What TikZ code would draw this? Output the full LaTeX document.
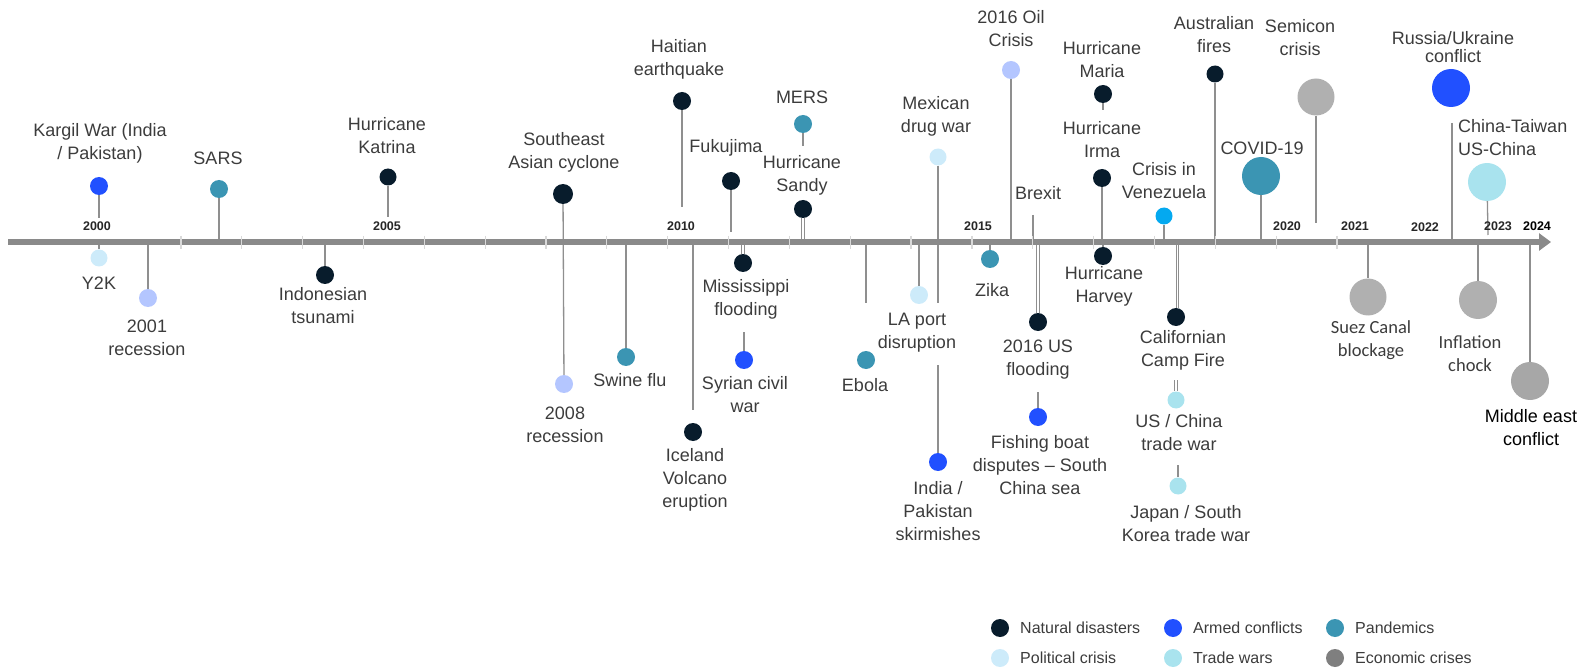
\documentclass[tikz,border=0pt]{standalone}
\usepackage{fontspec}
\setmainfont{Liberation Sans}
\newfontfamily\calfont{Carlito}
\usetikzlibrary{arrows.meta}

\definecolor{natcol}{HTML}{081C2C}
\definecolor{armcol}{HTML}{2150FF}
\definecolor{pancol}{HTML}{3B95B3}
\definecolor{polcol}{HTML}{CDEBFA}
\definecolor{tradecol}{HTML}{A9E3EE}
\definecolor{ecocol}{HTML}{B0B0B0}
\definecolor{ecoleg}{HTML}{7F7F7F}
\definecolor{lavcol}{HTML}{B4C6FF}
\definecolor{vencol}{HTML}{04A9F0}
\definecolor{stemgray}{HTML}{8F8F8F}
\definecolor{axisgray}{HTML}{8A8A8A}
\definecolor{txtgray}{HTML}{3C3C3C}

\begin{document}
\begin{tikzpicture}[x=1pt,y=-1pt,
    evdot/.style={circle,inner sep=0pt,minimum size=18pt},
    bigdot/.style={circle,inner sep=0pt,minimum size=38pt},
    stem/.style={draw=stemgray,line width=1.3pt},
    dstem/.style={draw=stemgray,line width=0.9pt,double=white,double distance=1.6pt},
    lbl/.style={align=center,inner sep=0pt,text=txtgray,font=\fontsize{18}{23}\selectfont},
    callbl/.style={align=center,inner sep=0pt,text=txtgray,font=\calfont\fontsize{18.5}{23}\selectfont},
    yr/.style={inner sep=0pt,font=\fontsize{12.5}{14}\selectfont\bfseries,text=black!85},
    legtxt/.style={anchor=west,inner sep=0pt,text=txtgray,font=\fontsize{16}{18}\selectfont}]
    \useasboundingbox (0,0) rectangle (1583,671);

    % axis ends
    \coordinate (axl) at (8,242);
    \coordinate (axr) at (1551,242);

    % events above the axis
    \node[evdot,fill=armcol] (kargil) at (99,186) {};
    \node[evdot,fill=pancol] (sars) at (219,189) {};
    \node[evdot,fill=natcol,minimum size=17pt] (katrina) at (388,177) {};
    \node[evdot,fill=natcol,minimum size=20pt] (seasia) at (563,194) {};
    \node[evdot,fill=natcol] (haiti) at (682,101) {};
    \node[evdot,fill=natcol] (fukujima) at (731,181) {};
    \node[evdot,fill=pancol] (mers) at (803,124) {};
    \node[evdot,fill=natcol] (sandy) at (803,209) {};
    \node[evdot,fill=polcol,minimum size=17pt] (mexico) at (938,157) {};
    \node[evdot,fill=lavcol] (oil) at (1011,70) {};
    \node[evdot,fill=natcol] (maria) at (1103,94) {};
    \node[evdot,fill=natcol] (irma) at (1102,178) {};
    \node[evdot,fill=vencol,minimum size=17pt] (venez) at (1164,216) {};
    \node[evdot,fill=natcol,minimum size=17pt] (ausfire) at (1215,74) {};
    \node[bigdot,fill=pancol] (covid) at (1261,176) {};
    \node[bigdot,fill=ecocol,minimum size=37pt] (semicon) at (1316,97) {};
    \node[bigdot,fill=armcol] (russia) at (1451,88) {};
    \node[bigdot,fill=tradecol] (chinatw) at (1487,182) {};

    % events below the axis
    \node[evdot,fill=polcol,minimum size=17pt] (y2k) at (99,258) {};
    \node[evdot,fill=lavcol] (rec01) at (148,298) {};
    \node[evdot,fill=natcol] (tsunami) at (325,275) {};
    \node[evdot,fill=lavcol] (rec08) at (564,384) {};
    \node[evdot,fill=pancol] (swine) at (626,357) {};
    \node[evdot,fill=natcol] (iceland) at (693,432) {};
    \node[evdot,fill=natcol] (mississ) at (743,263) {};
    \node[evdot,fill=armcol] (syria) at (744,360) {};
    \node[evdot,fill=pancol] (ebola) at (866,360) {};
    \node[evdot,fill=polcol] (laport) at (919,295) {};
    \node[evdot,fill=armcol] (indpak) at (938,462) {};
    \node[evdot,fill=pancol] (zika) at (990,259) {};
    \node[evdot,fill=natcol] (usflood) at (1038,322) {};
    \node[evdot,fill=armcol] (fishing) at (1038,417) {};
    \node[evdot,fill=natcol] (harvey) at (1103,256) {};
    \node[evdot,fill=natcol] (campfire) at (1176,317) {};
    \node[evdot,fill=tradecol,minimum size=17pt] (uschina) at (1176,400) {};
    \node[evdot,fill=tradecol,minimum size=17pt] (japan) at (1178,486) {};
    \node[bigdot,fill=ecocol,minimum size=37pt] (suez) at (1368,297) {};
    \node[bigdot,fill=ecocol] (inflation) at (1478,300) {};
    \node[bigdot,fill=ecocol!95!black] (mideast) at (1530,381) {};

    % free stem ends
    \coordinate (kargil-e) at (99,218);
    \coordinate (katrina-e) at (388,217);
    \coordinate (haiti-e) at (682,207);
    \coordinate (fukujima-e) at (731,232);
    \coordinate (mers-e) at (803,146);
    \coordinate (mexico-e) at (938,303);
    \coordinate (brexit-s) at (1033,215);
    \coordinate (maria-e) at (1103,110);
    \coordinate (semicon-e) at (1316,223);
    \coordinate (russia-s) at (1452,123);
    \coordinate (chinatw-e) at (1488,235);
    \coordinate (iceland-s) at (693,410);
    \coordinate (syria-s) at (744,332);
    \coordinate (ebola-e) at (866,303);
    \coordinate (indpak-s) at (938,365);
    \coordinate (fishing-s) at (1038,392);
    \coordinate (uschina-s) at (1176,380);
    \coordinate (japan-s) at (1178,465);

    % stems
    \draw[stem] (kargil) -- (kargil-e);
    \draw[stem] (sars) -- (sars |- axl);
    \draw[stem] (katrina) -- (katrina-e);
    \draw[stem] (seasia) -- (rec08);
    \draw[stem] (haiti) -- (haiti-e);
    \draw[stem] (fukujima) -- (fukujima-e);
    \draw[stem] (mers) -- (mers-e);
    \draw[dstem] (sandy) -- (sandy |- axl);
    \draw[stem] (mexico) -- (mexico-e);
    \draw[stem] (oil) -- (oil |- axl);
    \draw[stem] (brexit-s) -- (brexit-s |- axl);
    \draw[stem] (maria) -- (maria-e);
    \draw[stem] (irma) -- (irma |- axl);
    \draw[stem] (venez) -- (venez |- axl);
    \draw[stem] (ausfire) -- (ausfire |- axl);
    \draw[stem] (covid) -- (covid |- axl);
    \draw[stem] (semicon) -- (semicon-e);
    \draw[stem] (russia-s) -- (russia-s |- axl);
    \draw[stem] (chinatw) -- (chinatw-e);
    \draw[stem] (y2k |- axl) -- (y2k);
    \draw[stem] (rec01 |- axl) -- (rec01);
    \draw[stem] (tsunami |- axl) -- (tsunami);
    \draw[stem] (swine |- axl) -- (swine);
    \draw[stem] (iceland |- axl) -- (iceland-s);
    \draw[dstem] (mississ |- axl) -- (mississ);
    \draw[stem] (syria-s) -- (syria);
    \draw[stem] (ebola |- axl) -- (ebola-e);
    \draw[stem] (laport |- axl) -- (laport);
    \draw[stem] (indpak-s) -- (indpak);
    \draw[stem] (zika |- axl) -- (zika);
    \draw[dstem] (usflood |- axl) -- (usflood);
    \draw[stem] (fishing-s) -- (fishing);
    \draw[stem] (harvey |- axl) -- (harvey);
    \draw[stem,line width=0.8pt,double=white,double distance=3.4pt] (campfire |- axl) -- (campfire);
    \draw[stem,line width=0.8pt] (campfire |- axl) -- (campfire);
    \draw[dstem] (uschina-s) -- (uschina);
    \draw[stem] (japan-s) -- (japan);
    \draw[stem] (suez |- axl) -- (suez);
    \draw[stem] (inflation |- axl) -- (inflation);
    \draw[stem] (mideast |- axl) -- (mideast);

    % the time axis
    \draw[draw=axisgray,line width=6pt,-{Triangle[length=12pt,width=17pt]}] (axl) -- (axr);
    \foreach \k in {0,...,19}
        \draw[gray!30,line width=1.2pt] ({181+\k*60.84},236) -- ({181+\k*60.84},249);

    % years
    \node[yr] (y2000) at (97,226) {2000};
    \node[yr] (y2005) at (387,226) {2005};
    \node[yr] (y2010) at (681,226) {2010};
    \node[yr] (y2015) at (978,226) {2015};
    \node[yr] (y2020) at (1287,226) {2020};
    \node[yr] (y2021) at (1355,226) {2021};
    \node[yr] (y2022) at (1425,227) {2022};
    \node[yr] (y2023) at (1498,226) {2023};
    \node[yr,text=black] (y2024) at (1537,226) {2024};

    % labels above
    \node[lbl] (kargil-t) at (100,143) {Kargil War (India\\/ Pakistan)};
    \node[lbl] (sars-t) at (218,158) {SARS};
    \node[lbl] (katrina-t) at (387,136) {Hurricane\\Katrina};
    \node[lbl] (seasia-t) at (564,152) {Southeast\\Asian cyclone};
    \node[lbl] (haiti-t) at (679,59) {Haitian\\earthquake};
    \node[lbl] (fukujima-t) at (726,148) {Fukujima};
    \node[lbl] (mers-t) at (802,97) {MERS};
    \node[lbl] (sandy-t) at (802,175) {Hurricane\\Sandy};
    \node[lbl] (mexico-t) at (936,116) {Mexican\\drug war};
    \node[lbl] (oil-t) at (1011,29) {2016 Oil\\Crisis};
    \node[lbl] (brexit-t) at (1038,193) {Brexit};
    \node[lbl] (maria-t) at (1102,60) {Hurricane\\Maria};
    \node[lbl] (irma-t) at (1102,140) {Hurricane\\Irma};
    \node[lbl] (venez-t) at (1164,181) {Crisis in\\Venezuela};
    \node[lbl] (ausfire-t) at (1214,35) {Australian\\fires};
    \node[lbl] (covid-t) at (1262,148) {COVID-19};
    \node[lbl] (semicon-t) at (1300,38) {Semicon\\crisis};
    \node[lbl,font=\fontsize{18}{18}\selectfont] (russia-t) at (1453,47) {Russia/Ukraine\\conflict};
    \node[lbl,align=left,anchor=west] (chinatw-t) at (1458,138) {China-Taiwan\\US-China};

    % labels below
    \node[lbl] (y2k-t) at (99,283) {Y2K};
    \node[lbl] (rec01-t) at (147,338) {2001\\recession};
    \node[lbl] (tsunami-t) at (323,306) {Indonesian\\tsunami};
    \node[lbl] (rec08-t) at (565,425) {2008\\recession};
    \node[lbl] (swine-t) at (630,380) {Swine flu};
    \node[lbl] (iceland-t) at (695,480) {Iceland\\Volcano\\eruption};
    \node[lbl] (mississ-t) at (746,299) {Mississippi\\flooding};
    \node[lbl] (syria-t) at (745,395) {Syrian civil\\war};
    \node[lbl] (ebola-t) at (865,385) {Ebola};
    \node[lbl] (laport-t) at (917,333) {LA port\\disruption};
    \node[lbl] (indpak-t) at (938,511) {India /\\Pakistan\\skirmishes};
    \node[lbl] (zika-t) at (992,290) {Zika};
    \node[lbl] (usflood-t) at (1038,360) {2016 US\\flooding};
    \node[lbl] (fishing-t) at (1040,465) {Fishing boat\\disputes -- South\\China sea};
    \node[lbl] (harvey-t) at (1104,286) {Hurricane\\Harvey};
    \node[lbl] (campfire-t) at (1183,350) {Californian\\Camp Fire};
    \node[lbl] (uschina-t) at (1179,433) {US / China\\trade war};
    \node[lbl] (japan-t) at (1186,524) {Japan / South\\Korea trade war};
    \node[callbl] (suez-t) at (1371,340) {Suez Canal\\blockage};
    \node[callbl] (inflation-t) at (1470,354) {Inflation\\chock};
    \node[lbl,text=black] (mideast-t) at (1531,428) {Middle east\\conflict};

    % legend
    \node[evdot,fill=natcol] (lg-nat) at (1000,628) {};
    \node[legtxt] at (1020,628) {Natural disasters};
    \node[evdot,fill=armcol] (lg-arm) at (1173,628) {};
    \node[legtxt] at (1193,628) {Armed conflicts};
    \node[evdot,fill=pancol] (lg-pan) at (1335,628) {};
    \node[legtxt] at (1355,628) {Pandemics};
    \node[evdot,fill=polcol] (lg-pol) at (1000,658) {};
    \node[legtxt] at (1020,658) {Political crisis};
    \node[evdot,fill=tradecol] (lg-trade) at (1173,658) {};
    \node[legtxt] at (1193,658) {Trade wars};
    \node[evdot,fill=ecoleg] (lg-eco) at (1335,658) {};
    \node[legtxt] at (1355,658) {Economic crises};
\end{tikzpicture}
\end{document}
